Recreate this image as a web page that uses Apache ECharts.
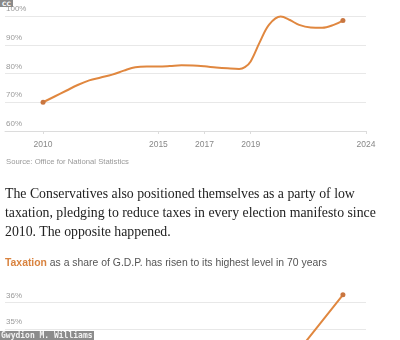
<!DOCTYPE html>
<html>
<head>
<meta charset="utf-8">
<script src="https://cdn.jsdelivr.net/npm/echarts@6/dist/echarts.min.js"></script>
<style>
  html, body { margin: 0; padding: 0; width: 400px; height: 340px; overflow: hidden; background: #fff; }
  #debt { position: absolute; left: 0; top: 0; width: 400px; height: 170px; }
  #tax { position: absolute; left: 0; top: 280px; width: 400px; height: 215px; }
  .source { position: absolute; left: 6px; top: 157px; font: 7.7px "Liberation Sans", Arial, sans-serif; color: #9a9a9a; line-height: 9px; white-space: nowrap; }
  .para { position: absolute; left: 5px; top: 184px; width: 395px; font: 13.8px "Liberation Serif", "DejaVu Serif", serif; color: #222; line-height: 19px; white-space: nowrap; }
  .sub { position: absolute; left: 5px; top: 257px; font: 10.4px "Liberation Sans", Arial, sans-serif; color: #555; line-height: 12px; white-space: nowrap; }
  .sub b { color: #d9833f; font-weight: bold; }
  .badge { position: absolute; left: 0; top: 0; background: #8a8a8a; color: #fff; font: bold 6px "DejaVu Sans", sans-serif; line-height: 7px; padding: 0 2px; }
  .credit { position: absolute; left: 0; top: 331px; background: #8c8c8c; color: #f2f2f2; font: bold 8px "DejaVu Sans Mono", monospace; line-height: 9px; padding: 0 1px; white-space: nowrap; }
</style>
</head>
<body>
<div id="debt"></div>
<div class="source">Source: Office for National Statistics</div>
<div class="para">The Conservatives also positioned themselves as a party of low<br>taxation, pledging to reduce taxes in every election manifesto since<br>2010. The opposite happened.</div>
<div class="sub"><b>Taxation</b> as a share of G.D.P. has risen to its highest level in 70 years</div>
<div id="tax"></div>
<div class="badge">CC</div>
<div class="credit">Gwydion M. Williams</div>
<script>
// Public sector net debt, % of G.D.P.
const debtYears = [2010.0, 2010.5, 2011.0, 2011.5, 2012.0, 2012.5, 2013.0, 2013.5, 2014.0, 2014.5,
                   2015.0, 2015.5, 2016.0, 2016.5, 2017.0, 2017.5, 2018.0, 2018.5, 2018.75, 2019.0,
                   2019.4, 2019.8, 2020.3, 2020.7, 2021.1, 2021.6, 2022.1, 2022.6, 2023.0];
const debtValues = [70.0, 72.0, 74.0, 76.0, 77.6, 78.6, 79.6, 81.0, 82.2, 82.4,
                    82.4, 82.6, 82.9, 82.8, 82.5, 82.1, 81.8, 81.6, 82.2, 84.2,
                    91.0, 97.0, 99.8, 98.6, 96.9, 96.0, 95.9, 96.9, 98.4];

// Tax receipts, % of G.D.P.
const taxYears = [2021.0, 2022.0, 2023.0];
const taxValues = [34.1, 35.2, 36.3];

const yearTicks = [2010, 2015, 2017, 2019, 2024];
const debtTicks = [60, 70, 80, 90, 100];
const taxTicks = [30, 31, 32, 33, 34, 35, 36];

const X_MIN = 2008.35, X_MAX = 2024;
const ORANGE = '#e0873f';
const DOT = '#c97640';

function pointsOf(xs, ys) {
  return xs.map((x, i) => {
    const item = { value: [x, ys[i]] };
    if (i === 0 || i === xs.length - 1) {
      item.symbol = 'circle';
      item.symbolSize = 5;
      item.itemStyle = { color: DOT };
    }
    return item;
  });
}

function yAxisOf(ticks) {
  return {
    type: 'value',
    min: ticks[0],
    max: ticks[ticks.length - 1],
    interval: ticks[1] - ticks[0],
    axisLine: { show: false },
    axisTick: { show: false },
    splitLine: { lineStyle: { color: '#e8e8e8', width: 1 } },
    axisLabel: {
      inside: true,
      margin: 1,
      verticalAlign: 'bottom',
      padding: [0, 0, 3, 0],
      formatter: v => v + '%',
      color: '#9a9a9a',
      fontSize: 8,
      fontFamily: 'Liberation Sans'
    }
  };
}

const debtChart = echarts.init(document.getElementById('debt'), null, { renderer: 'canvas' });
debtChart.setOption({
  animation: false,
  grid: { left: 5, right: 34, top: 16, bottom: 39 },
  xAxis: {
    type: 'value',
    min: X_MIN,
    max: X_MAX,
    splitLine: { show: false },
    axisLine: { show: true, lineStyle: { color: '#dcdcdc' } },
    axisTick: { show: true, customValues: yearTicks, length: 3, lineStyle: { color: '#dcdcdc' } },
    axisLabel: {
      customValues: yearTicks,
      formatter: v => String(v),
      margin: 9,
      color: '#888',
      fontSize: 8.5,
      fontFamily: 'Liberation Sans'
    }
  },
  yAxis: yAxisOf(debtTicks),
  series: [{
    type: 'line',
    data: pointsOf(debtYears, debtValues),
    symbol: 'none',
    smooth: 0.35,
    clip: false,
    lineStyle: { color: ORANGE, width: 2 },
    itemStyle: { color: DOT }
  }]
});

const taxChart = echarts.init(document.getElementById('tax'), null, { renderer: 'canvas' });
taxChart.setOption({
  animation: false,
  grid: { left: 5, right: 34, top: 22.7, bottom: 34 },
  xAxis: {
    type: 'value',
    min: X_MIN,
    max: X_MAX,
    splitLine: { show: false },
    axisLine: { show: false },
    axisTick: { show: false },
    axisLabel: { show: false }
  },
  yAxis: yAxisOf(taxTicks),
  series: [{
    type: 'line',
    data: pointsOf(taxYears, taxValues),
    symbol: 'none',
    smooth: false,
    clip: false,
    lineStyle: { color: ORANGE, width: 2 },
    itemStyle: { color: DOT }
  }]
});
</script>
</body>
</html>
